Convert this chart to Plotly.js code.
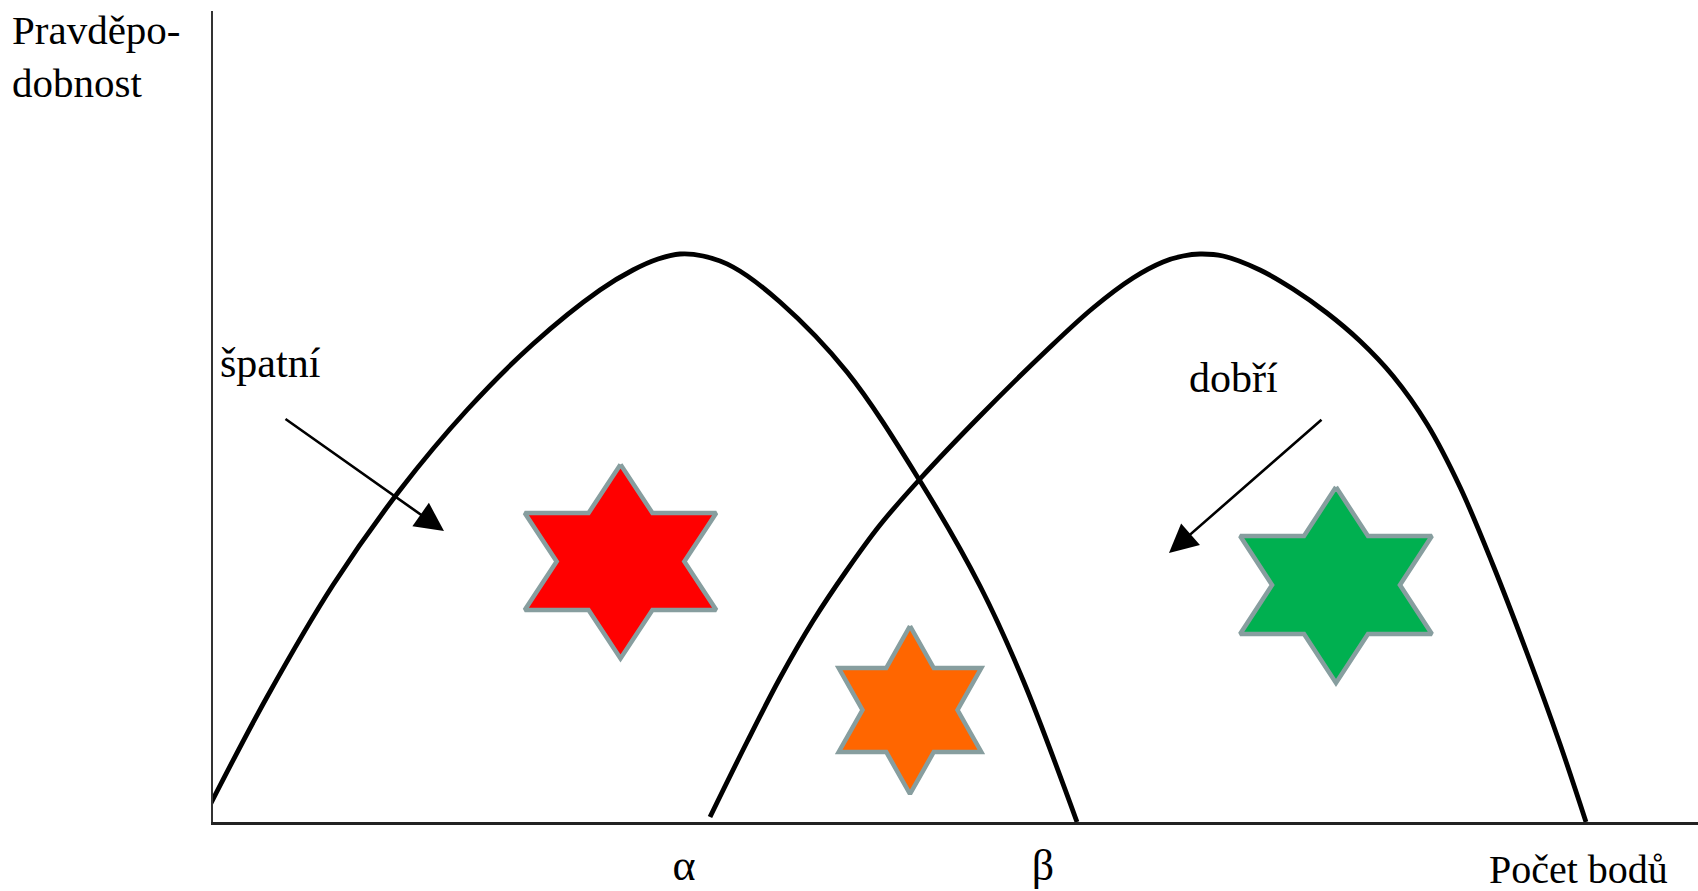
<!DOCTYPE html>
<html>
<head>
<meta charset="utf-8">
<script src="https://cdn.plot.ly/plotly-3.0.1.min.js"></script>
<style>html,body{margin:0;padding:0;background:#fff;}#chart{width:1698px;height:891px;}</style>
</head>
<body>
<div id="chart"></div>
<script>
// ---- data (x: score units, y: probability units) ----
var badX  = [-0.3, 5.4, 12.0, 18.7, 25.4, 32.0, 38.7, 42.0, 44.5, 46.7, 49.0, 52.0, 56.7, 63.4, 70.7, 76.7, 81.0, 86.4];
var badY  = [1.7, 12.5, 23.7, 33.2, 41.2, 47.8, 53.2, 55.2, 56.3, 56.8, 56.6, 55.5, 52.0, 45.0, 34.1, 23.6, 14.2, 0.0];
var goodX = [49.7, 53.4, 56.7, 60.0, 63.4, 66.7, 70.7, 76.7, 83.4, 88.0, 92.0, 95.0, 97.0, 98.7,
             101.0, 104.7, 108.0, 111.4, 114.7, 118.0, 121.4, 124.7, 128.0, 131.4, 134.7, 137.3];
var goodY = [0.5, 8.0, 14.4, 20.1, 25.2, 29.7, 34.3, 40.6, 47.2, 51.4, 54.4, 56.0, 56.6, 56.8,
             56.6, 55.2, 53.3, 50.9, 48.1, 44.6, 39.8, 33.5, 25.7, 16.9, 7.8, 0.0];

var tickVals  = [47.1, 83.0];
var tickTexts = ['α', 'β'];

var starX      = [40.75, 69.7, 112.3];
var starY      = [26.05, 11.2, 23.7];
var starR      = [9.7, 8.4, 9.8];
var starColors = ['#ff0000', '#ff6600', '#00b050'];

var groupLabels = ['špatní', 'dobří'];
var yTitle = 'Pravděpo-<br>dobnost';
var xTitle = 'Počet bodů';

// ---- build ----
var stretch = [1.14, 0.98, 1.13];
function hexagram(cx, cy, r, sx) {
  var xs = [], ys = [];
  for (var k = 0; k <= 12; k++) {
    var a = (90 + k * 30) * Math.PI / 180;
    var rr = (k % 2 === 0) ? r : r / Math.sqrt(3);
    xs.push(cx + sx * rr * Math.cos(a));
    ys.push(cy + rr * Math.sin(a));
  }
  return {x: xs, y: ys};
}

var traces = [];
for (var i = 0; i < starX.length; i++) {
  var s = hexagram(starX[i], starY[i], starR[i], stretch[i]);
  traces.push({
    type: 'scatter', mode: 'lines', x: s.x, y: s.y,
    fill: 'toself', fillcolor: starColors[i],
    line: {color: '#879e9f', width: 4.5},
    hoverinfo: 'skip', showlegend: false
  });
}
traces.push({type: 'scatter', mode: 'lines', x: badX, y: badY,
  line: {color: '#000', width: 4.8, shape: 'spline', smoothing: 1},
  hoverinfo: 'skip', showlegend: false});
traces.push({type: 'scatter', mode: 'lines', x: goodX, y: goodY,
  line: {color: '#000', width: 4.8, shape: 'spline', smoothing: 1},
  hoverinfo: 'skip', showlegend: false});

var FONT = 'Liberation Serif, Times New Roman, serif';

var layout = {
  width: 1698, height: 891,
  margin: {l: 213, r: 0, t: 11, b: 69, pad: 0},
  paper_bgcolor: '#fff', plot_bgcolor: '#fff',
  showlegend: false,
  font: {family: FONT, color: '#000', size: 40},
  xaxis: {
    range: [0, 148.5], showgrid: false, zeroline: false,
    showline: true, linecolor: '#222', linewidth: 2.5,
    ticks: '', tickmode: 'array', tickvals: tickVals, ticktext: tickTexts,
    tickfont: {family: FONT, size: 44, color: '#000'},
    ticklabelstandoff: 3, fixedrange: true
  },
  yaxis: {
    range: [0, 81.1], showgrid: false, zeroline: false,
    showline: true, linecolor: '#333', linewidth: 2,
    ticks: '', showticklabels: false, fixedrange: true
  },
  annotations: [
    {xref: 'x', yref: 'y', x: 5.7, y: 45.9, text: groupLabels[0], showarrow: false,
     font: {family: FONT, size: 42, color: '#000'}, xanchor: 'center', yanchor: 'middle'},
    {xref: 'x', yref: 'y', x: 102.0, y: 44.4, text: groupLabels[1], showarrow: false,
     font: {family: FONT, size: 42, color: '#000'}, xanchor: 'center', yanchor: 'middle'},
    {xref: 'paper', yref: 'paper', x: 0.9192, y: -0.058, text: xTitle, showarrow: false,
     font: {family: FONT, size: 40, color: '#000'}, xanchor: 'center', yanchor: 'middle'},
    {xref: 'paper', yref: 'paper', x: -0.1367, y: 1.0075, text: yTitle, showarrow: false, align: 'left',
     font: {family: FONT, size: 41, color: '#000'}, xanchor: 'left', yanchor: 'top'},
    // arrows
    {xref: 'x', yref: 'y', axref: 'x', ayref: 'y', x: 23.1, y: 29.1, ax: 7.1, ay: 40.4,
     text: '', showarrow: true, arrowhead: 2, arrowsize: 2.2, arrowwidth: 2.6, arrowcolor: '#000', standoff: 0},
    {xref: 'x', yref: 'y', axref: 'x', ayref: 'y', x: 95.6, y: 26.9, ax: 111.0, ay: 40.35,
     text: '', showarrow: true, arrowhead: 2, arrowsize: 2.2, arrowwidth: 2.6, arrowcolor: '#000', standoff: 0}
  ]
};

Plotly.newPlot('chart', traces, layout, {staticPlot: true, displayModeBar: false});
</script>
</body>
</html>
